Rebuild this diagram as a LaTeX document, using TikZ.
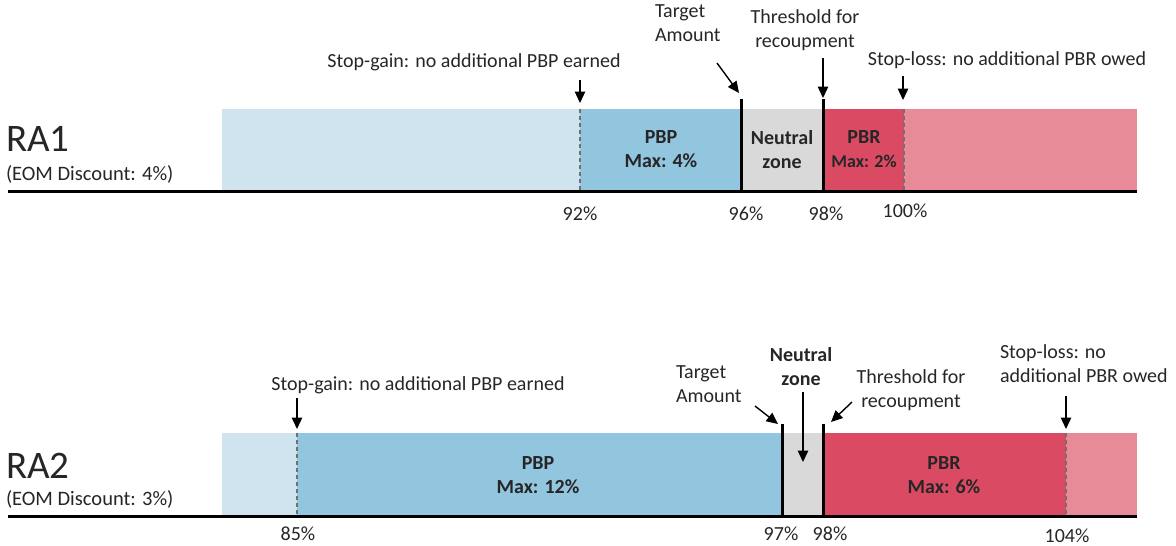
\documentclass[tikz,border=0pt]{standalone}
\usepackage{fontspec}
\setmainfont{Carlito}
\usetikzlibrary{arrows.meta}

\definecolor{paleblue}{HTML}{D0E4EF}
\definecolor{gainblue}{HTML}{92C5DE}
\definecolor{neutralgray}{HTML}{D9D9D9}
\definecolor{lossred}{HTML}{DA4B63}
\definecolor{palered}{HTML}{E88B98}
\definecolor{labelgray}{HTML}{262626}
\definecolor{dashgray}{HTML}{707070}

\tikzset{
  every node/.style={inner sep=0pt, outer sep=0pt, text=labelgray},
  note/.style={font=\fontsize{20}{24}\selectfont},
  tick/.style={font=\fontsize{20}{24}\selectfont, anchor=base},
  zonetext/.style={font=\bfseries\fontsize{20}{24}\selectfont, align=center},
  ratitle/.style={font=\fontsize{39}{40}\selectfont, anchor=base west},
  rasub/.style={font=\fontsize{20.5}{24}\selectfont, anchor=base west},
  pointer/.style={line width=1.4pt, -{Triangle[width=10.5pt,length=11.5pt]}},
  marker/.style={line width=3pt, black},
  limit/.style={line width=1.4pt, dashgray, dash pattern=on 4pt off 3pt},
  axisline/.style={line width=3pt, black},
}

\begin{document}
\begin{tikzpicture}[x=1pt, y=-1pt]
\useasboundingbox (0,0) rectangle (1176,546);

% ---------------- RA1 ----------------
\fill[paleblue]    (222,109) rectangle (580,190);
\fill[gainblue]    (580,109) rectangle (741,190);
\fill[neutralgray] (741,109) rectangle (823,190);
\fill[lossred]     (823,109) rectangle (904,190);
\fill[palered]     (904,109) rectangle (1137,190);

\draw[limit] (580,109) -- (580,190);
\draw[limit] (904,109) -- (904,190);
\draw[axisline] (8,191) -- (1137,191);
\draw[marker] (741,99) -- (741,192);
\draw[marker] (823,99) -- (823,192);

\node[ratitle] (ra1) at (6,151) {RA1};
\node[rasub] (ra1d) at (6,180) {(EOM Discount: 4\%)};

\node[zonetext] (pbp1) at (661,149) {PBP\\Max: 4\%};
\node[zonetext] (neu1) at (782,150) {Neutral\\zone};
\node[zonetext] (pbr1) at (864,149) {PBR\\{\fontsize{18}{22}\selectfont Max: 2\%}};

\node[tick] (t92)  at (580,220) {92\%};
\node[tick] (t96)  at (746,220) {96\%};
\node[tick] (t98)  at (826,220) {98\%};
\node[tick] (t100) at (905,217) {100\%};

\node[note] (sg1) at (474,62) {Stop-gain: no additional PBP earned};
\node[note, align=left, anchor=north west] (tg1) at (655,5) {Target\\Amount};
\node[note, align=center] (th1) at (805,30) {Threshold for\\recoupment};
\node[note] (sl1) at (1007,60) {Stop-loss: no additional PBR owed};

\coordinate (sg1a) at (580,80);  \coordinate (sg1b) at (580,103);
\coordinate (tg1a) at (717,63);  \coordinate (tg1b) at (739,93);
\coordinate (th1a) at (823,58);  \coordinate (th1b) at (823,98);
\coordinate (sl1a) at (903,76);  \coordinate (sl1b) at (903,100);
\draw[pointer] (sg1a) -- (sg1b);
\draw[pointer] (tg1a) -- (tg1b);
\draw[pointer] (th1a) -- (th1b);
\draw[pointer] (sl1a) -- (sl1b);

% ---------------- RA2 ----------------
\fill[paleblue]    (222,433) rectangle (297,515);
\fill[gainblue]    (297,433) rectangle (782,515);
\fill[neutralgray] (782,433) rectangle (823,515);
\fill[lossred]     (823,433) rectangle (1066,515);
\fill[palered]     (1066,433) rectangle (1137,515);

\draw[limit] (297,433) -- (297,515);
\draw[limit] (1066,433) -- (1066,515);
\draw[axisline] (8,516) -- (1137,516);
\draw[marker] (782,424) -- (782,517);
\draw[marker] (823,424) -- (823,517);

\node[ratitle] (ra2) at (6,478) {RA2};
\node[rasub] (ra2d) at (6,505) {(EOM Discount: 3\%)};

\node[zonetext] (pbp2) at (538,475) {PBP\\Max: 12\%};
\node[zonetext] (pbr2) at (944,475) {PBR\\Max: 6\%};

\node[tick] (t85)  at (298,540) {85\%};
\node[tick] (t97)  at (781,540) {97\%};
\node[tick] (t98b) at (830,540) {98\%};
\node[tick] (t104) at (1067,542) {104\%};

\node[note] (sg2) at (418,385) {Stop-gain: no additional PBP earned};
\node[note, align=left, anchor=north west] (tg2) at (676,366) {Target\\Amount};
\node[zonetext] (nz2) at (801,367) {Neutral\\zone};
\node[note, align=center] (th2) at (911,390) {Threshold for\\recoupment};
\node[note, align=left, anchor=north west] (sl2) at (1000,345) {Stop-loss: no\\additional PBR owed};

\coordinate (sg2a) at (297,398);  \coordinate (sg2b) at (297,429);
\coordinate (tg2a) at (755,406);  \coordinate (tg2b) at (778,424);
\coordinate (nz2a) at (803,392);  \coordinate (nz2b) at (803,462);
\coordinate (th2a) at (852,402);  \coordinate (th2b) at (831,422);
\coordinate (sl2a) at (1066,396); \coordinate (sl2b) at (1066,429);
\draw[pointer] (sg2a) -- (sg2b);
\draw[pointer] (tg2a) -- (tg2b);
\draw[pointer] (nz2a) -- (nz2b);
\draw[pointer] (th2a) -- (th2b);
\draw[pointer] (sl2a) -- (sl2b);
\end{tikzpicture}
\end{document}
